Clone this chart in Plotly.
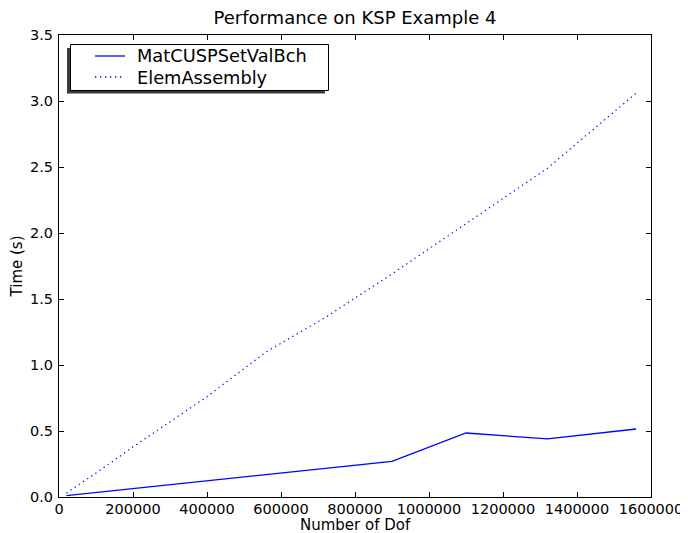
import plotly.graph_objects as go

# Data
mat_x = [20000, 900000, 1100000, 1320000, 1560000]
mat_y = [0.01, 0.27, 0.485, 0.44, 0.515]

elem_x = [20000, 120000, 200000, 400000, 560000, 720000, 900000, 1100000, 1320000, 1560000]
elem_y = [0.03, 0.22, 0.38, 0.76, 1.10, 1.36, 1.69, 2.07, 2.49, 3.06]

x_ticks = [0, 200000, 400000, 600000, 800000, 1000000, 1200000, 1400000, 1600000]
y_ticks = [0.0, 0.5, 1.0, 1.5, 2.0, 2.5, 3.0, 3.5]

series_names = ["MatCUSPSetValBch", "ElemAssembly"]

FONT = "DejaVu Sans"
OFF = 8                      # page body margin
W, H = 688 - OFF, 533 - OFF
L, R, T, B = 59 - OFF, 37, 35 - OFF, 36
pw, ph = W - L - R, H - T - B

BLUE = "#0000ff"
DOT = "1.3px,3.7px"

fig = go.Figure()
fig.add_trace(go.Scatter(x=mat_x, y=mat_y, mode="lines", name=series_names[0],
                         line=dict(color=BLUE, width=1.3)))
fig.add_trace(go.Scatter(x=elem_x, y=elem_y, mode="lines", name=series_names[1],
                         line=dict(color=BLUE, width=1.2, dash=DOT)))


# screen pixel -> paper coordinates
def px2x(p):
    return (p - 59) / pw


def py2y(p):
    return (497 - p) / ph


# manual legend with shadow
fig.add_shape(type="rect", xref="paper", yref="paper",
              x0=px2x(67), x1=px2x(325), y0=py2y(93.5), y1=py2y(48),
              fillcolor="#3a3a3a", line=dict(width=0), layer="above")
fig.add_shape(type="rect", xref="paper", yref="paper",
              x0=px2x(70.5), x1=px2x(328.5), y0=py2y(90.5), y1=py2y(44.5),
              fillcolor="white", line=dict(color="black", width=1), layer="above")
legend_rows = [56, 77]
legend_dash = ["solid", DOT]
for name, row, dash in zip(series_names, legend_rows, legend_dash):
    fig.add_shape(type="line", xref="paper", yref="paper",
                  x0=px2x(95), x1=px2x(125), y0=py2y(row), y1=py2y(row),
                  line=dict(color=BLUE, width=1.3, dash=dash), layer="above")
    fig.add_annotation(text=name, xref="paper", yref="paper", x=px2x(135), y=py2y(row),
                       xanchor="left", yanchor="middle", showarrow=False,
                       font=dict(family=FONT, size=17.8, color="black"))

# x-axis title placed explicitly
fig.add_annotation(text="Number of Dof", xref="paper", yref="paper", x=0.5, y=py2y(525),
                   xanchor="center", yanchor="middle", showarrow=False, borderpad=0,
                   font=dict(family=FONT, size=15, color="black"))

axis_common = dict(showgrid=False, zeroline=False, showline=True, linecolor="black",
                   linewidth=1, mirror="ticks", ticks="inside", ticklen=5,
                   tickcolor="black", tickwidth=1,
                   tickfont=dict(family=FONT, size=14.5, color="black"))

fig.update_xaxes(range=[0, 1600000], tickvals=x_ticks,
                 ticktext=[str(v) for v in x_ticks], ticklabelstandoff=-1,
                 **axis_common)
fig.update_yaxes(range=[0, 3.5], tickvals=y_ticks,
                 ticktext=[f"{v:.1f}" for v in y_ticks], ticklabelstandoff=2,
                 title=dict(text="Time (s)", font=dict(family=FONT, size=15, color="black")),
                 **axis_common)

fig.update_layout(
    width=W, height=H,
    margin=dict(l=L, r=R, t=T, b=B, autoexpand=False),
    paper_bgcolor="white", plot_bgcolor="white",
    title=dict(text="Performance on KSP Example 4", x=(L + pw / 2) / W, xanchor="center",
               y=1 - (17.5 - OFF) / H, yanchor="middle",
               font=dict(family=FONT, size=18, color="black")),
    font=dict(family=FONT, color="black"),
    showlegend=False,
)

fig.write_html("out.html")
